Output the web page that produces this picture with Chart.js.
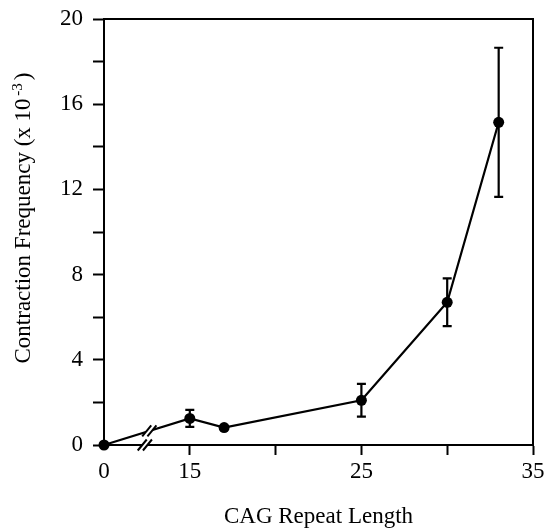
<!DOCTYPE html>
<html>
<head>
<meta charset="utf-8">
<script src="https://cdn.jsdelivr.net/npm/chart.js@4.4.1/dist/chart.umd.min.js"></script>
<style>
  html, body { margin: 0; padding: 0; background: #fff; }
  #wrap { width: 553px; height: 532px; position: relative; }
</style>
</head>
<body>
<div id="wrap"><canvas id="c" width="553" height="532"></canvas></div>
<script>
// ---- data ----
const cagLength       = [0, 15, 17, 25, 30, 33];
const contractionFreq = [0, 1.25, 0.82, 2.1, 6.7, 15.15];
const freqError       = [0, 0.4, 0, 0.77, 1.12, 3.5];

const xTickValues = [0, 15, 20, 25, 30, 35];
const xTickLabels = ['0', '15', '', '25', '', '35'];
const yTickValues = [0, 2, 4, 6, 8, 10, 12, 14, 16, 18, 20];
const yTickLabels = ['0', '', '4', '', '8', '', '12', '', '16', '', '20'];

const xTitle = 'CAG Repeat Length';
const yTitleMain = 'Contraction Frequency (x 10';
const yTitleSup = '-3';
const yTitleEnd = ')';

// axis break: values below 15 are shifted so that 0 sits 5 units left of 15
const BREAK_SHIFT = 10;
const toAxis = v => (v < 15 ? v + BREAK_SHIFT : v);
const BREAK_AT = 12.7; // axis units (inside the gap)

const FONT = '"Liberation Serif", "Times New Roman", serif';

const errorBars = {
  id: 'errorBars',
  afterDatasetsDraw(chart) {
    const ctx = chart.ctx, xs = chart.scales.x, ys = chart.scales.y;
    ctx.save();
    ctx.strokeStyle = '#000';
    ctx.lineWidth = 2.2;
    cagLength.forEach((v, i) => {
      const e = freqError[i];
      if (!e) return;
      const px = xs.getPixelForValue(toAxis(v));
      const top = ys.getPixelForValue(contractionFreq[i] + e);
      const bot = ys.getPixelForValue(contractionFreq[i] - e);
      ctx.beginPath();
      ctx.moveTo(px, top); ctx.lineTo(px, bot);
      ctx.moveTo(px - 4.5, top); ctx.lineTo(px + 4.5, top);
      ctx.moveTo(px - 4.5, bot); ctx.lineTo(px + 4.5, bot);
      ctx.stroke();
    });
    ctx.restore();
  }
};

const breakMarks = {
  id: 'breakMarks',
  afterDatasetsDraw(chart) {
    const ctx = chart.ctx, xs = chart.scales.x, ys = chart.scales.y;
    const bx = xs.getPixelForValue(BREAK_AT);
    const x0 = xs.getPixelForValue(toAxis(cagLength[0])), y0 = ys.getPixelForValue(contractionFreq[0]);
    const x1 = xs.getPixelForValue(toAxis(cagLength[1])), y1 = ys.getPixelForValue(contractionFreq[1]);
    const ux = bx - 1;
    const lineY = y0 + (y1 - y0) * (ux - x0) / (x1 - x0);
    const axisY = chart.chartArea.bottom;
    const pairs = [[ux, lineY], [bx - 5.5, axisY]];
    const dx = 4.5, dy = 5.5, off = 2.6;
    ctx.save();
    pairs.forEach(([cx, cy]) => {
      ctx.fillStyle = '#fff';
      ctx.beginPath();
      ctx.moveTo(cx - off - dx, cy + dy);
      ctx.lineTo(cx + off - dx, cy + dy);
      ctx.lineTo(cx + off + dx, cy - dy);
      ctx.lineTo(cx - off + dx, cy - dy);
      ctx.closePath();
      ctx.fill();
      ctx.strokeStyle = '#000';
      ctx.lineWidth = 2;
      [-off, off].forEach(o => {
        ctx.beginPath();
        ctx.moveTo(cx + o - dx, cy + dy);
        ctx.lineTo(cx + o + dx, cy - dy);
        ctx.stroke();
      });
    });
    ctx.restore();
  }
};

const frame = {
  id: 'frame',
  afterDraw(chart) {
    const { ctx, chartArea: a } = chart;
    ctx.save();
    ctx.strokeStyle = '#000';
    ctx.lineWidth = 2;
    ctx.lineCap = 'square';
    ctx.beginPath();
    ctx.moveTo(a.left, a.top);
    ctx.lineTo(a.right, a.top);
    ctx.lineTo(a.right, a.bottom);
    ctx.stroke();
    // y axis title with superscript
    ctx.fillStyle = '#000';
    ctx.translate(30, 218);
    ctx.rotate(-Math.PI / 2);
    ctx.textBaseline = 'alphabetic';
    ctx.textAlign = 'left';
    const big = '23px ' + FONT, small = '15px ' + FONT;
    ctx.font = big;
    const w1 = ctx.measureText(yTitleMain + ' ').width;
    const w3 = ctx.measureText(yTitleEnd).width;
    ctx.font = small;
    const w2 = ctx.measureText(yTitleSup).width;
    let x = -(w1 + w2 + w3) / 2;
    ctx.font = big;
    ctx.fillText(yTitleMain, x, 0);
    x += w1;
    ctx.font = small;
    ctx.fillText(yTitleSup, x - 3, -8);
    x += w2;
    ctx.font = big;
    ctx.fillText(yTitleEnd, x, 0);
    ctx.restore();
  }
};

new Chart(document.getElementById('c'), {
  type: 'line',
  data: {
    datasets: [{
      data: cagLength.map((v, i) => ({ x: toAxis(v), y: contractionFreq[i] })),
      borderColor: '#000',
      backgroundColor: '#000',
      borderWidth: 2.2,
      pointRadius: 5.5,
      pointHoverRadius: 5.5,
      pointBorderWidth: 0,
      tension: 0,
      clip: false
    }]
  },
  options: {
    responsive: false,
    animation: false,
    events: [],
    layout: { padding: { left: 0, top: 19, right: 20, bottom: 0 } },
    plugins: { legend: { display: false }, tooltip: { enabled: false } },
    scales: {
      x: {
        type: 'linear',
        min: toAxis(xTickValues[0]),
        max: xTickValues[xTickValues.length - 1],
        afterBuildTicks: s => { s.ticks = xTickValues.map(v => ({ value: toAxis(v) })); },
        afterFit: s => { s.height = 87; s.paddingLeft = 0; s.paddingRight = 0; },
        border: { display: true, color: '#000', width: 2 },
        grid: {
          display: true,
          drawOnChartArea: false,
          drawTicks: true,
          tickLength: 10,
          tickWidth: 2,
          tickColor: c => (c.index === 0 ? 'rgba(0,0,0,0)' : '#000')
        },
        ticks: {
          autoSkip: false,
          maxRotation: 0,
          padding: 3,
          color: '#000',
          font: { family: FONT, size: 23 },
          callback: (val, idx) => xTickLabels[idx]
        },
        title: {
          display: true,
          text: xTitle,
          color: '#000',
          font: { family: FONT, size: 23 },
          padding: { top: 0, bottom: 1 }
        }
      },
      y: {
        min: yTickValues[0],
        max: yTickValues[yTickValues.length - 1],
        afterBuildTicks: s => { s.ticks = yTickValues.map(v => ({ value: v })); },
        afterFit: s => { s.width = 104; s.paddingTop = 0; s.paddingBottom = 0; },
        border: { display: true, color: '#000', width: 2 },
        grid: {
          display: true,
          drawOnChartArea: false,
          drawTicks: true,
          tickLength: 11,
          tickWidth: 2,
          tickColor: '#000'
        },
        ticks: {
          autoSkip: false,
          padding: 10,
          color: '#000',
          font: { family: FONT, size: 23 },
          callback: (val, idx) => yTickLabels[idx]
        }
      }
    }
  },
  plugins: [breakMarks, errorBars, frame]
});
</script>
</body>
</html>
